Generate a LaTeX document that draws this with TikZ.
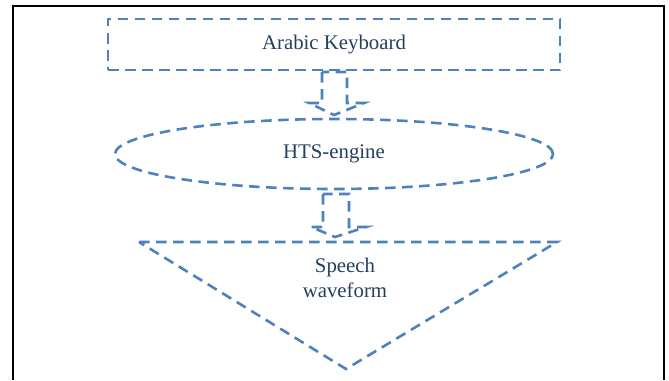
\documentclass[tikz,border=0pt]{standalone}
\usepackage{fontspec}
\setmainfont{Liberation Serif}
\usetikzlibrary{shapes.geometric}
\definecolor{lineblue}{HTML}{4F81BD}
\definecolor{textblue}{HTML}{243F60}
\begin{document}
\begin{tikzpicture}[x=1pt,y=-1pt,
  dashline/.style={draw=lineblue,line width=2.6pt,dash pattern=on 10.5pt off 6.5pt},
  lbl/.style={text=textblue,font=\fontsize{20.8}{24}\selectfont,align=center,inner sep=0pt}]
\useasboundingbox (0,0) rectangle (669,380);
\fill[white] (0,0) rectangle (669,380);
% outer frame
\draw[black,line width=1.6pt] (13,380) -- (13,6) -- (664,6) -- (664,380);
% keyboard box
\node[dashline,rectangle,minimum width=452pt,minimum height=51pt,inner sep=0pt] (kb) at (334,44.5) {};
\node[lbl] (kbt) at (334,45) {Arabic Keyboard};
% engine ellipse
\node[dashline,ellipse,minimum width=438pt,minimum height=70pt,inner sep=0pt] (hts) at (334,154) {};
\node[lbl] (htst) at (334,154) {HTS-engine};
% triangle
\coordinate (tl) at (139,242);
\coordinate (tr) at (557,242);
\coordinate (tb) at (346,369);
\draw[dashline] (tl) -- (tr) -- (tb) -- cycle;
\node[lbl] (sw) at (345,278) {Speech\\[1pt]waveform};
% block arrow 1
\draw[dashline] (322,72) -- (322,103) -- (309,103) -- (334,115) -- (364,103) -- (347,103) -- (347,72) -- cycle;
% block arrow 2
\draw[dashline] (323,194) -- (323,227) -- (311,227) -- (335,237) -- (366,227) -- (349,227) -- (349,194) -- cycle;
\end{tikzpicture}
\end{document}
